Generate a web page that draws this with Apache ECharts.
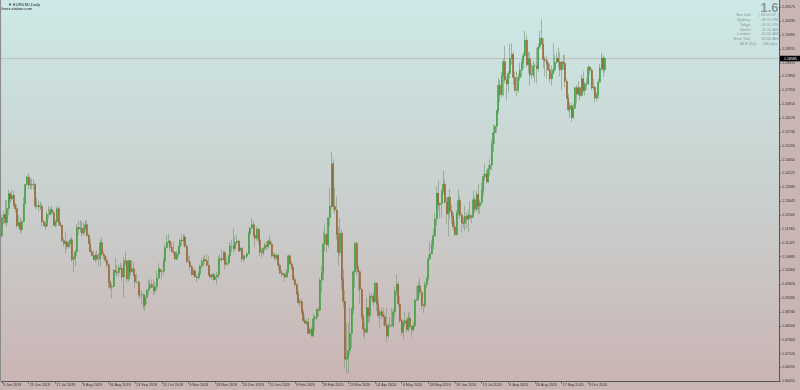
<!DOCTYPE html>
<html><head><meta charset="utf-8">
<script src="https://cdn.jsdelivr.net/npm/echarts@6/dist/echarts.min.js"></script>
<style>html,body{margin:0;padding:0;background:#c9b5b4}#c{width:800px;height:390px}</style>
</head><body><div id="c"></div><script>
// ---------- data ----------
const symbolTitle = '\u25BC EURUSD,Daily';
const siteText = 'forex-station.com';
const spreadText = '1.6';
const infoLabels = ['Bar Left','Sydney','Tokyo','Berlin','London','New York'];
const infoValues = ['[ 00:00:07 ]','08:55 PM','05:55 PM','11:55 AM','10:55 AM','05:55 AM'];
const atrLabel = 'ATR (20):';
const atrValue = '136 pips';
const bidPrice = 1.18585;
const firstDay = [2019, 5, 3];
const holidays = ['12-25','01-01'];
const barCount = 363;
const slotCount = 467;
const labelEvery = 16;
const yTicks = [1.20575,1.20035,1.19495,1.18955,1.18415,1.17890,1.17350,1.16810,1.16270,1.15730,1.15190,1.14650,1.14125,1.13585,1.13045,1.12505,1.11965,1.11425,1.10885,1.10360,1.09820,1.09280,1.08740,1.08200,1.07660,1.07120,1.06595,1.06055];
const yMin = 1.06055, yMax = 1.2086;

const opens = [
1.1170,1.1240,1.1252,1.1221,1.1276,1.1333,1.1313,1.1327,1.1290,1.1275,
1.1209,1.1220,1.1194,1.1225,1.1294,1.1369,1.1398,1.1367,1.1367,1.1370,
1.1370,1.1285,1.1287,1.1283,1.1285,1.1225,1.1213,1.1207,1.1253,1.1253,
1.1271,1.1259,1.1211,1.1224,1.1275,1.1220,1.1210,1.1151,1.1140,1.1146,
1.1127,1.1140,1.1154,1.1078,1.1084,1.1108,1.1202,1.1197,1.1199,1.1180,
1.1200,1.1213,1.1171,1.1140,1.1108,1.1092,1.1078,1.1094,1.1080,1.1080,
1.1143,1.1098,1.1090,1.1075,1.1057,1.0989,1.0970,1.0973,1.1035,1.1030,
1.1027,1.1045,1.1043,1.1010,1.1065,1.1073,1.1002,1.1073,1.1030,1.1042,
1.1018,1.0990,1.0990,1.0940,1.0940,1.0940,1.0900,1.0930,1.0958,1.0968,
1.0980,1.0970,1.0956,1.0972,1.1005,1.1040,1.1030,1.1032,1.1070,1.1124,
1.1145,1.1150,1.1125,1.1107,1.1105,1.1080,1.1100,1.1128,1.1152,1.1150,
1.1165,1.1128,1.1071,1.1066,1.1050,1.1018,1.1033,1.1010,1.1006,1.1022,
1.1052,1.1071,1.1077,1.1074,1.1055,1.1019,1.1010,1.1019,1.1000,1.1010,
1.1017,1.1078,1.1081,1.1077,1.1104,1.1059,1.1064,1.1093,1.1130,1.1130,
1.1120,1.1145,1.1150,1.1112,1.1122,1.1080,1.1090,1.1090,1.1100,1.1178,
1.1200,1.1213,1.1171,1.1160,1.1195,1.1152,1.1106,1.1104,1.1120,1.1134,
1.1128,1.1150,1.1137,1.1092,1.1095,1.1083,1.1093,1.1055,1.1025,1.1020,
1.1020,1.1010,1.1030,1.1092,1.1060,1.1045,1.1000,1.0980,1.0944,1.0910,
1.0914,1.0873,1.0840,1.0830,1.0835,1.0791,1.0806,1.0780,1.0847,1.0852,
1.0882,1.0880,1.0997,1.1025,1.1138,1.1175,1.1135,1.1240,1.1285,1.1450,
1.1284,1.1270,1.1175,1.1105,1.1180,1.1000,1.0915,1.0690,1.0697,1.0724,
1.0790,1.0885,1.1030,1.1140,1.1045,1.1030,1.0962,1.0855,1.0807,1.0795,
1.0890,1.0858,1.0935,1.0935,1.0913,1.0985,1.0905,1.0860,1.0875,1.0862,
1.0855,1.0822,1.0780,1.0820,1.0822,1.0820,1.0875,1.0955,1.0982,1.0905,
1.0840,1.0795,1.0830,1.0840,1.0805,1.0850,1.0817,1.0805,1.0820,1.0920,
1.0922,1.0976,1.0950,1.0900,1.0898,1.0980,1.1005,1.1080,1.1100,1.1135,
1.1170,1.1235,1.1335,1.1290,1.1295,1.1342,1.1370,1.1300,1.1255,1.1320,
1.1265,1.1245,1.1205,1.1175,1.1258,1.1307,1.1250,1.1220,1.1218,1.1245,
1.1234,1.1250,1.1240,1.1245,1.1310,1.1273,1.1330,1.1285,1.1300,1.1345,
1.1400,1.1410,1.1380,1.1430,1.1445,1.1525,1.1570,1.1595,1.1655,1.1755,
1.1718,1.1790,1.1846,1.1775,1.1760,1.1800,1.1860,1.1875,1.1785,1.1735,
1.1737,1.1785,1.1813,1.1842,1.1870,1.1930,1.1835,1.1858,1.1795,1.1795,
1.1830,1.1830,1.1820,1.1903,1.1937,1.1915,1.1855,1.1850,1.1838,1.1815,
1.1780,1.1800,1.1815,1.1845,1.1860,1.1845,1.1815,1.1845,1.1840,1.1770,
1.1705,1.1660,1.1675,1.1630,1.1665,1.1745,1.1720,1.1745,1.1715,1.1780,
1.1735,1.1760,1.1760,1.1825,1.1813,1.1745,1.1747,1.1705,1.1717,1.1767,
1.1822,1.1861,1.1815];

const closes = [
1.1240,1.1252,1.1221,1.1276,1.1333,1.1313,1.1327,1.1290,1.1275,1.1209,
1.1220,1.1194,1.1225,1.1294,1.1369,1.1398,1.1367,1.1367,1.1370,1.1370,
1.1285,1.1287,1.1283,1.1285,1.1225,1.1213,1.1207,1.1253,1.1253,1.1271,
1.1259,1.1211,1.1224,1.1275,1.1220,1.1210,1.1151,1.1140,1.1146,1.1127,
1.1140,1.1154,1.1078,1.1084,1.1108,1.1202,1.1197,1.1199,1.1180,1.1200,
1.1213,1.1171,1.1140,1.1108,1.1092,1.1078,1.1094,1.1080,1.1080,1.1143,
1.1098,1.1090,1.1075,1.1057,1.0989,1.0970,1.0973,1.1035,1.1030,1.1027,
1.1045,1.1043,1.1010,1.1065,1.1073,1.1002,1.1073,1.1030,1.1042,1.1018,
1.0990,1.0990,1.0940,1.0940,1.0940,1.0900,1.0930,1.0958,1.0968,1.0980,
1.0970,1.0956,1.0972,1.1005,1.1040,1.1030,1.1032,1.1070,1.1124,1.1145,
1.1150,1.1125,1.1107,1.1105,1.1080,1.1100,1.1128,1.1152,1.1150,1.1165,
1.1128,1.1071,1.1066,1.1050,1.1018,1.1033,1.1010,1.1006,1.1022,1.1052,
1.1071,1.1077,1.1074,1.1055,1.1019,1.1010,1.1019,1.1000,1.1010,1.1017,
1.1078,1.1081,1.1077,1.1104,1.1059,1.1064,1.1093,1.1130,1.1130,1.1120,
1.1145,1.1150,1.1112,1.1122,1.1080,1.1090,1.1090,1.1100,1.1178,1.1200,
1.1213,1.1171,1.1160,1.1195,1.1152,1.1106,1.1104,1.1120,1.1134,1.1128,
1.1150,1.1137,1.1092,1.1095,1.1083,1.1093,1.1055,1.1025,1.1020,1.1020,
1.1010,1.1030,1.1092,1.1060,1.1045,1.1000,1.0980,1.0944,1.0910,1.0914,
1.0873,1.0840,1.0830,1.0835,1.0791,1.0806,1.0780,1.0847,1.0852,1.0882,
1.0880,1.0997,1.1025,1.1138,1.1175,1.1135,1.1240,1.1285,1.1450,1.1284,
1.1270,1.1175,1.1105,1.1180,1.1000,1.0915,1.0690,1.0697,1.0724,1.0790,
1.0885,1.1030,1.1140,1.1045,1.1030,1.0962,1.0855,1.0807,1.0795,1.0890,
1.0858,1.0935,1.0935,1.0913,1.0985,1.0905,1.0860,1.0875,1.0862,1.0855,
1.0822,1.0780,1.0820,1.0822,1.0820,1.0875,1.0955,1.0982,1.0905,1.0840,
1.0795,1.0830,1.0840,1.0805,1.0850,1.0817,1.0805,1.0820,1.0920,1.0922,
1.0976,1.0950,1.0900,1.0898,1.0980,1.1005,1.1080,1.1100,1.1135,1.1170,
1.1235,1.1335,1.1290,1.1295,1.1342,1.1370,1.1300,1.1255,1.1320,1.1265,
1.1245,1.1205,1.1175,1.1258,1.1307,1.1250,1.1220,1.1218,1.1245,1.1234,
1.1250,1.1240,1.1245,1.1310,1.1273,1.1330,1.1285,1.1300,1.1345,1.1400,
1.1410,1.1380,1.1430,1.1445,1.1525,1.1570,1.1595,1.1655,1.1755,1.1718,
1.1790,1.1846,1.1775,1.1760,1.1800,1.1860,1.1875,1.1785,1.1735,1.1737,
1.1785,1.1813,1.1842,1.1870,1.1930,1.1835,1.1858,1.1795,1.1795,1.1830,
1.1830,1.1820,1.1903,1.1937,1.1915,1.1855,1.1850,1.1838,1.1815,1.1780,
1.1800,1.1815,1.1845,1.1860,1.1845,1.1815,1.1845,1.1840,1.1770,1.1705,
1.1660,1.1675,1.1630,1.1665,1.1745,1.1720,1.1745,1.1715,1.1780,1.1735,
1.1760,1.1760,1.1825,1.1813,1.1745,1.1747,1.1705,1.1717,1.1767,1.1822,
1.1861,1.1815,1.1859];

const lows = [
1.1163,1.1215,1.1214,1.1205,1.1250,1.1297,1.1306,1.1282,1.1260,1.1200,
1.1201,1.1181,1.1182,1.1223,1.1292,1.1365,1.1350,1.1350,1.1350,1.1350,
1.1277,1.1274,1.1264,1.1271,1.1207,1.1206,1.1193,1.1204,1.1236,1.1249,
1.1253,1.1207,1.1201,1.1206,1.1209,1.1205,1.1145,1.1128,1.1101,1.1117,
1.1118,1.1138,1.1068,1.1027,1.1051,1.1092,1.1172,1.1182,1.1167,1.1171,
1.1186,1.1165,1.1137,1.1106,1.1092,1.1072,1.1066,1.1071,1.1052,1.1052,
1.1093,1.1079,1.1067,1.1044,1.0965,1.0960,1.0926,1.0970,1.1016,1.1010,
1.1012,1.1036,1.0996,1.0927,1.1056,1.0988,1.0990,1.1014,1.1026,1.1010,
1.0966,1.0984,1.0933,1.0924,1.0905,1.0885,1.0879,1.0905,1.0940,1.0960,
1.0966,1.0941,1.0941,1.0957,1.1004,1.1014,1.1000,1.1017,1.1064,1.1120,
1.1140,1.1110,1.1105,1.1093,1.1073,1.1074,1.1087,1.1101,1.1130,1.1131,
1.1124,1.1063,1.1064,1.1036,1.1016,1.1015,1.1006,1.0989,1.1000,1.1018,
1.1040,1.1051,1.1059,1.1051,1.1014,1.1005,1.0999,1.0993,1.0998,1.0981,
1.1004,1.1065,1.1069,1.1075,1.1040,1.1052,1.1057,1.1071,1.1106,1.1105,
1.1111,1.1134,1.1107,1.1106,1.1066,1.1067,1.1074,1.1083,1.1098,1.1170,
1.1195,1.1163,1.1126,1.1149,1.1135,1.1091,1.1086,1.1093,1.1110,1.1113,
1.1119,1.1135,1.1085,1.1087,1.1073,1.1076,1.1036,1.1020,1.1009,1.1011,
1.0992,1.1005,1.1023,1.1054,1.1038,1.0993,1.0971,1.0940,1.0904,1.0893,
1.0865,1.0833,1.0827,1.0824,1.0789,1.0785,1.0778,1.0779,1.0801,1.0840,
1.0858,1.0878,1.0950,1.0998,1.1110,1.1105,1.1120,1.1206,1.1275,1.1265,
1.1256,1.1154,1.1054,1.1091,1.0960,1.0890,1.0655,1.0635,1.0636,1.0710,
1.0735,1.0865,1.0967,1.1017,1.0955,1.0905,1.0845,1.0779,1.0768,1.0790,
1.0831,1.0830,1.0924,1.0895,1.0910,1.0878,1.0852,1.0812,1.0845,1.0818,
1.0814,1.0757,1.0770,1.0808,1.0815,1.0811,1.0850,1.0935,1.0894,1.0830,
1.0782,1.0766,1.0816,1.0795,1.0796,1.0808,1.0775,1.0796,1.0808,1.0915,
1.0918,1.0938,1.0884,1.0870,1.0888,1.0963,1.0995,1.1075,1.1097,1.1115,
1.1166,1.1208,1.1272,1.1237,1.1241,1.1330,1.1294,1.1216,1.1168,1.1236,
1.1215,1.1190,1.1168,1.1170,1.1245,1.1236,1.1184,1.1200,1.1190,1.1200,
1.1185,1.1231,1.1219,1.1241,1.1260,1.1262,1.1254,1.1255,1.1292,1.1326,
1.1385,1.1371,1.1374,1.1402,1.1422,1.1496,1.1526,1.1570,1.1645,1.1689,
1.1707,1.1712,1.1763,1.1696,1.1726,1.1781,1.1835,1.1755,1.1730,1.1711,
1.1726,1.1772,1.1786,1.1820,1.1865,1.1826,1.1802,1.1753,1.1780,1.1786,
1.1766,1.1762,1.1805,1.1895,1.1913,1.1822,1.1789,1.1781,1.1809,1.1765,
1.1753,1.1798,1.1806,1.1838,1.1824,1.1789,1.1737,1.1816,1.1746,1.1701,
1.1652,1.1627,1.1612,1.1624,1.1662,1.1684,1.1715,1.1695,1.1710,1.1727,
1.1715,1.1738,1.1756,1.1796,1.1735,1.1735,1.1688,1.1694,1.1702,1.1765,
1.1811,1.1786,1.1803];

const highs = [
1.1253,1.1266,1.1307,1.1309,1.1348,1.1338,1.1348,1.1345,1.1297,1.1292,
1.1251,1.1243,1.1231,1.1319,1.1371,1.1403,1.1412,1.1390,1.1393,1.1390,
1.1374,1.1318,1.1308,1.1302,1.1295,1.1232,1.1225,1.1265,1.1286,1.1280,
1.1285,1.1270,1.1230,1.1282,1.1286,1.1225,1.1212,1.1163,1.1187,1.1151,
1.1150,1.1160,1.1168,1.1092,1.1117,1.1215,1.1227,1.1229,1.1228,1.1223,
1.1230,1.1230,1.1180,1.1157,1.1120,1.1112,1.1104,1.1113,1.1102,1.1154,
1.1164,1.1110,1.1093,1.1088,1.1062,1.0998,1.0986,1.1040,1.1085,1.1056,
1.1059,1.1066,1.1057,1.1087,1.1109,1.1075,1.1075,1.1075,1.1075,1.1068,
1.1025,1.1025,1.0995,1.0960,1.0959,1.0946,1.0943,1.0963,1.0999,1.0999,
1.1000,1.0999,1.0990,1.1035,1.1063,1.1046,1.1040,1.1086,1.1140,1.1172,
1.1179,1.1150,1.1144,1.1145,1.1110,1.1113,1.1130,1.1158,1.1175,1.1176,
1.1174,1.1138,1.1093,1.1092,1.1055,1.1040,1.1043,1.1020,1.1030,1.1058,
1.1081,1.1089,1.1095,1.1097,1.1090,1.1028,1.1023,1.1026,1.1015,1.1029,
1.1090,1.1096,1.1116,1.1110,1.1111,1.1082,1.1096,1.1145,1.1154,1.1199,
1.1167,1.1175,1.1150,1.1139,1.1127,1.1097,1.1094,1.1105,1.1187,1.1206,
1.1239,1.1228,1.1180,1.1206,1.1199,1.1174,1.1121,1.1125,1.1144,1.1148,
1.1154,1.1172,1.1147,1.1104,1.1103,1.1101,1.1100,1.1062,1.1038,1.1030,
1.1025,1.1040,1.1096,1.1096,1.1073,1.1052,1.1014,1.0985,1.0956,1.0924,
1.0925,1.0883,1.0863,1.0848,1.0851,1.0814,1.0815,1.0863,1.0863,1.0890,
1.0892,1.1007,1.1053,1.1186,1.1213,1.1180,1.1240,1.1356,1.1496,1.1468,
1.1358,1.1323,1.1204,1.1237,1.1195,1.1040,1.0958,1.0831,1.0829,1.0890,
1.0890,1.1035,1.1147,1.1146,1.1055,1.1035,1.0965,1.0864,1.0833,1.0927,
1.0891,1.0951,1.0945,1.0952,1.0990,1.0990,1.0927,1.0886,1.0893,1.0888,
1.0868,1.0888,1.0830,1.0853,1.0890,1.0888,1.0972,1.1019,1.0990,1.0935,
1.0848,1.0842,1.0875,1.0850,1.0871,1.0874,1.0818,1.0832,1.0927,1.0975,
1.0993,1.1008,1.0958,1.0906,1.0994,1.1009,1.1098,1.1146,1.1154,1.1197,
1.1257,1.1361,1.1384,1.1300,1.1350,1.1422,1.1388,1.1319,1.1323,1.1351,
1.1289,1.1257,1.1227,1.1270,1.1349,1.1324,1.1260,1.1244,1.1286,1.1262,
1.1270,1.1302,1.1253,1.1345,1.1320,1.1346,1.1371,1.1310,1.1375,1.1410,
1.1452,1.1424,1.1445,1.1467,1.1540,1.1601,1.1601,1.1660,1.1782,1.1776,
1.1806,1.1857,1.1908,1.1790,1.1810,1.1916,1.1916,1.1885,1.1807,1.1808,
1.1800,1.1842,1.1855,1.1884,1.1966,1.1951,1.1885,1.1883,1.1841,1.1850,
1.1840,1.1900,1.1918,1.1966,1.2011,1.1937,1.1866,1.1871,1.1844,1.1840,
1.1830,1.1917,1.1872,1.1882,1.1900,1.1883,1.1851,1.1872,1.1873,1.1779,
1.1721,1.1688,1.1686,1.1683,1.1750,1.1755,1.1771,1.1749,1.1796,1.1809,
1.1769,1.1782,1.1831,1.1831,1.1820,1.1780,1.1752,1.1727,1.1779,1.1838,
1.1880,1.1871,1.1866];

// ---------- categories (trading days) ----------
const monthNames = ['Jan','Feb','Mar','Apr','May','Jun','Jul','Aug','Sep','Oct','Nov','Dec'];
const categories = [];
const d = new Date(Date.UTC(firstDay[0], firstDay[1], firstDay[2]));
while (categories.length < slotCount) {
  const wd = d.getUTCDay();
  const md = String(d.getUTCMonth()+1).padStart(2,'0') + '-' + String(d.getUTCDate()).padStart(2,'0');
  if (wd !== 0 && wd !== 6 && holidays.indexOf(md) < 0) {
    categories.push(d.getUTCDate() + ' ' + monthNames[d.getUTCMonth()] + ' ' + d.getUTCFullYear());
  }
  d.setUTCDate(d.getUTCDate() + 1);
}

const fullData = [], bodyData = [];
for (let i = 0; i < barCount; i++) {
  fullData.push([opens[i], closes[i], lows[i], highs[i]]);
  bodyData.push([opens[i], closes[i], Math.min(opens[i], closes[i]), Math.max(opens[i], closes[i])]);
}

const FONT = "'Liberation Sans', Arial, sans-serif";
const showIdx = (i) => i % labelEvery === 0 && i < barCount;
const GRID = {left: 1, right: 21, top: 0, bottom: 9};

const chart = echarts.init(document.getElementById('c'), null, {renderer: 'canvas'});
chart.setOption({
  animation: false,
  backgroundColor: '#c9b5b4',
  grid: {
    left: GRID.left, right: GRID.right, top: GRID.top, bottom: GRID.bottom, show: true, borderWidth: 0,
    backgroundColor: {type: 'linear', x: 0, y: 0, x2: 0, y2: 1,
      colorStops: [{offset: 0, color: '#cde9e7'}, {offset: 0.5, color: '#c9d1cf'}, {offset: 1, color: '#cab5b4'}]}
  },
  xAxis: {
    type: 'category', data: categories, boundaryGap: true,
    axisLine: {show: true, lineStyle: {color: '#555', width: 1}},
    axisTick: {show: true, alignWithLabel: true, interval: showIdx, length: 2.5, lineStyle: {color: '#555', width: 0.8}},
    axisLabel: {interval: showIdx, fontSize: 3.7, fontFamily: FONT, color: '#333', align: 'left', margin: 1.5, padding: [0,0,0,1]},
    splitLine: {show: false}
  },
  yAxis: {
    type: 'value', position: 'right', min: yMin, max: yMax, scale: true,
    axisLine: {show: true, lineStyle: {color: '#555', width: 1}},
    axisTick: {show: true, length: 2, customValues: yTicks, lineStyle: {color: '#555', width: 0.8}},
    axisLabel: {customValues: yTicks, formatter: (v) => v.toFixed(5), fontSize: 3.6, fontFamily: FONT, color: '#333', margin: 3},
    splitLine: {show: false}
  },
  series: [
    {
      type: 'candlestick', data: fullData, barWidth: 0.9,
      itemStyle: {color: 'rgba(115,150,115,0.75)', color0: 'rgba(135,145,115,0.75)',
        borderColor: 'rgba(115,150,115,0.75)', borderColor0: 'rgba(135,145,115,0.75)', borderWidth: 0.8}
    },
    {
      type: 'candlestick', data: bodyData, barWidth: 1.5,
      itemStyle: {color: '#39a039', color0: '#96602f', borderColor: '#39a039', borderColor0: '#96602f', borderWidth: 0.5}
    }
  ]
});

const bidY = chart.convertToPixel({yAxisIndex: 0}, bidPrice);
const plotRight = 800 - GRID.right;
const graphics = [
  {type: 'line', shape: {x1: GRID.left, y1: bidY, x2: plotRight, y2: bidY}, style: {stroke: 'rgba(175,155,140,0.6)', lineWidth: 0.8}, silent: true, z: 0},
  {type: 'rect', shape: {x: 0, y: 0, width: 1, height: 381}, style: {fill: '#8c8c8c'}, silent: true},
  {type: 'text', x: 8, y: 2.5, style: {text: symbolTitle, font: '4px ' + FONT, fill: '#222'}},
  {type: 'text', x: 1.5, y: 6.5, style: {text: siteText, font: '4px ' + FONT, fill: '#222'}},
  {type: 'text', x: 778.5, y: 2, style: {text: spreadText, font: 'bold 13px ' + FONT, fill: '#8a9696', align: 'right'}},
  {type: 'rect', shape: {x: 780, y: bidY - 2.8, width: 20, height: 5.6}, style: {fill: '#000'}},
  {type: 'text', x: 784, y: bidY, style: {text: bidPrice.toFixed(5), font: '3.6px ' + FONT, fill: '#fff', verticalAlign: 'middle'}}
];
infoLabels.forEach((t, i) => {
  const y = 15.3 + i * 4.7;
  graphics.push({type: 'text', x: 750.5, y: y, style: {text: t, font: '4px ' + FONT, fill: '#8a9898', align: 'right', verticalAlign: 'middle'}});
  graphics.push({type: 'text', x: 778.5, y: y, style: {text: infoValues[i], font: '4px ' + FONT, fill: '#8a9898', align: 'right', verticalAlign: 'middle'}});
});
graphics.push({type: 'text', x: 757, y: 43.5, style: {text: atrLabel, font: '4px ' + FONT, fill: '#8a9898', align: 'right', verticalAlign: 'middle'}});
graphics.push({type: 'text', x: 777.5, y: 43.5, style: {text: atrValue, font: '4px ' + FONT, fill: '#8a9898', align: 'right', verticalAlign: 'middle'}});
chart.setOption({graphic: graphics});
</script></body></html>
